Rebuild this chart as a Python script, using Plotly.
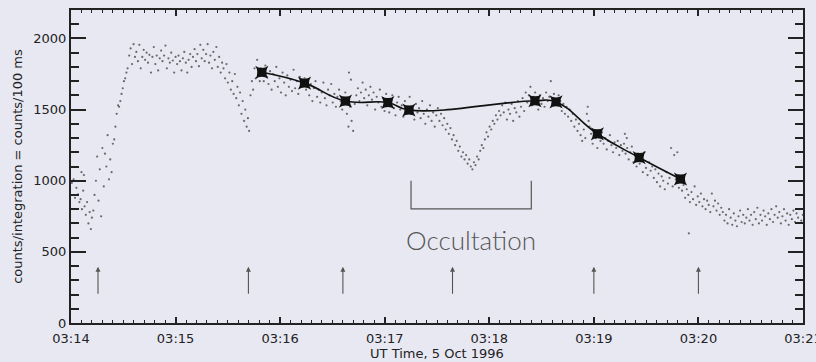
import pandas as pd
import plotly.graph_objects as go

# ---------------- data (seconds after 03:14:00 UT, counts/100 ms) ----------------
seg_start = [(0.5, 985), (1.5, 1010), (2.3, 880), (3.1, 950), (4.0, 905), (4.8, 850), (5.5, 870),
             (6.0, 1060), (6.3, 800), (7.0, 930), (7.4, 1040), (7.8, 820), (8.5, 760), (9.2, 850),
             (10.0, 700), (10.7, 780), (11.4, 660), (12.0, 740)]
seg_rise = [(12.8, 790), (13.5, 900), (14.3, 1000), (15.0, 1170), (15.8, 860), (16.5, 1080), (17.3, 750),
            (18.0, 1230), (18.8, 960), (19.5, 1190), (20.3, 1100), (21.0, 1320), (21.8, 1010), (22.5, 1150),
            (23.3, 1060), (24.0, 1260), (24.8, 1290), (25.5, 1380), (26.2, 1470), (27.0, 1530), (27.6, 1520),
            (28.3, 1560), (29.0, 1610), (29.7, 1650), (30.4, 1700), (31.1, 1720), (31.8, 1760)]
seg_plateau = [(32.5, 1790), (33.4, 1880), (34.2, 1930), (35.0, 1820), (35.9, 1960), (36.7, 1870), (37.5, 1905),
               (38.4, 1840), (39.2, 1955), (40.0, 1790), (40.9, 1870), (41.7, 1920), (42.5, 1850), (43.4, 1900),
               (44.2, 1830), (45.0, 1885), (45.9, 1760), (46.7, 1870), (47.5, 1940), (48.4, 1820), (49.2, 1880),
               (50.0, 1775), (50.9, 1860), (51.7, 1915), (52.5, 1840), (53.4, 1880), (54.2, 1950), (55.0, 1790),
               (55.9, 1860), (56.7, 1830), (57.5, 1900), (58.4, 1845), (59.2, 1760), (60.0, 1870), (60.9, 1820),
               (61.7, 1880), (62.5, 1840), (63.4, 1775), (64.2, 1860), (65.0, 1905), (65.9, 1830), (66.7, 1760),
               (67.5, 1850), (68.4, 1890), (69.2, 1800), (70.0, 1870), (70.9, 1925), (71.7, 1840), (72.5, 1890),
               (73.4, 1805), (74.2, 1955), (75.0, 1860), (75.9, 1920), (76.7, 1840), (77.5, 1890), (78.4, 1960),
               (79.2, 1830), (80.0, 1880), (80.9, 1790), (81.7, 1905), (82.5, 1850), (83.4, 1940), (84.2, 1800),
               (85.0, 1870), (85.9, 1760), (86.7, 1830), (87.5, 1790), (88.4, 1720), (89.2, 1820), (90.0, 1690),
               (90.9, 1760), (91.7, 1640)]
seg_drop = [(92.5, 1700), (93.3, 1610), (94.0, 1750), (94.8, 1580), (95.5, 1660), (96.3, 1530), (97.0, 1620),
            (97.8, 1470), (98.5, 1560), (99.3, 1420), (100.0, 1500), (100.8, 1380), (101.5, 1440), (102.2, 1350),
            (103.0, 1600), (103.8, 1700), (104.5, 1640), (105.3, 1790), (106.0, 1720), (106.8, 1850),
            (107.5, 1760), (108.3, 1700), (109.0, 1790), (109.8, 1740)]
seg_fall1 = [(110.6, 1700), (111.5, 1810), (112.4, 1730), (113.3, 1680), (114.2, 1770), (115.1, 1640),
             (116.0, 1750), (116.9, 1700), (117.8, 1800), (118.7, 1660), (119.6, 1720), (120.5, 1620),
             (121.4, 1760), (122.3, 1690), (123.2, 1600), (124.1, 1740), (125.0, 1660), (125.9, 1710),
             (126.8, 1630), (127.7, 1780), (128.6, 1650), (129.5, 1700), (130.4, 1610), (131.3, 1730),
             (132.2, 1670), (133.1, 1690), (134.0, 1720), (134.9, 1640), (135.8, 1700), (136.7, 1600),
             (137.6, 1680), (138.5, 1560), (139.4, 1650), (140.3, 1700), (141.2, 1590), (142.1, 1640),
             (143.0, 1550), (143.9, 1620), (144.8, 1690), (145.7, 1580), (146.6, 1530), (147.5, 1640),
             (148.4, 1600), (149.3, 1680), (150.2, 1550), (151.1, 1610), (152.0, 1520), (152.9, 1590),
             (153.8, 1640), (154.7, 1560), (155.6, 1500), (156.5, 1580), (157.4, 1620), (158.3, 1470),
             (159.2, 1380), (159.5, 1760), (160.1, 1520), (160.6, 1710), (161.0, 1420), (161.9, 1350),
             (162.8, 1540)]
seg_flat = [(163.7, 1600), (164.6, 1650), (165.5, 1560), (166.4, 1620), (167.3, 1690), (168.2, 1580),
            (169.1, 1640), (170.0, 1530), (170.9, 1600), (171.8, 1660), (172.7, 1570), (173.6, 1620),
            (174.5, 1500), (175.4, 1590), (176.3, 1550), (177.2, 1640), (178.1, 1520), (179.0, 1580),
            (179.9, 1490), (180.8, 1610), (181.7, 1540), (182.6, 1480), (183.5, 1570), (184.4, 1600),
            (185.3, 1510), (186.2, 1460), (187.1, 1550), (188.0, 1590), (188.9, 1500), (189.8, 1530),
            (190.7, 1450), (191.6, 1560), (192.5, 1480), (193.4, 1520), (194.3, 1590), (195.2, 1470),
            (196.1, 1500), (197.0, 1430), (197.9, 1540), (198.8, 1480), (199.7, 1510), (200.6, 1440),
            (201.5, 1560), (202.4, 1470), (203.3, 1400), (204.2, 1500), (205.1, 1450), (206.0, 1530),
            (206.9, 1420), (207.8, 1480), (208.7, 1380), (209.6, 1460), (210.5, 1510), (211.4, 1420),
            (212.3, 1470), (213.2, 1390), (214.1, 1440), (215.0, 1360)]
seg_dip = [(215.9, 1400), (216.8, 1330), (217.7, 1370), (218.6, 1290), (219.5, 1320), (220.4, 1250),
           (221.3, 1280), (222.2, 1210), (223.1, 1240), (224.0, 1170), (224.9, 1200), (225.8, 1150),
           (226.7, 1180), (227.6, 1120), (228.5, 1150), (229.4, 1100), (230.3, 1080), (231.2, 1130),
           (232.1, 1110), (233.0, 1170), (233.9, 1150), (234.8, 1210), (235.7, 1250), (236.6, 1230),
           (237.5, 1290), (238.4, 1340), (239.3, 1310), (240.2, 1380), (241.1, 1360), (242.0, 1420),
           (242.9, 1400), (243.8, 1460), (244.7, 1430), (245.6, 1490)]
seg_peak = [(246.5, 1460), (247.4, 1530), (248.3, 1480), (249.2, 1550), (250.1, 1430), (251.0, 1500),
            (251.9, 1470), (252.8, 1540), (253.7, 1420), (254.6, 1510), (255.5, 1480), (256.4, 1560),
            (257.3, 1450), (258.2, 1520), (259.1, 1580), (260.0, 1490), (260.9, 1620), (261.8, 1550),
            (262.7, 1600), (263.6, 1660), (264.5, 1530), (265.4, 1590), (266.3, 1620), (267.2, 1560),
            (268.1, 1500), (269.0, 1600), (269.9, 1540), (270.8, 1580), (271.7, 1520), (272.6, 1620),
            (273.5, 1560), (274.4, 1590), (275.3, 1700), (276.2, 1540), (277.1, 1610), (278.0, 1570),
            (278.9, 1530), (279.8, 1600), (280.7, 1560), (281.6, 1490), (282.5, 1540), (283.4, 1470),
            (284.3, 1520)]
seg_fall2 = [(285.2, 1450), (286.1, 1500), (287.0, 1420), (287.9, 1470), (288.8, 1380), (289.7, 1430),
             (290.6, 1350), (291.5, 1400), (292.4, 1320), (293.3, 1280), (294.2, 1360), (295.1, 1300),
             (296.0, 1470), (296.5, 1520), (297.0, 1420), (297.5, 1380), (298.4, 1330), (299.3, 1260),
             (300.2, 1350), (301.1, 1300), (302.0, 1230), (302.9, 1320), (303.8, 1280), (304.7, 1340),
             (305.6, 1260), (306.5, 1300), (307.4, 1220), (308.3, 1280), (309.2, 1320), (310.1, 1250),
             (311.0, 1200), (311.9, 1270), (312.8, 1230), (313.7, 1280), (314.6, 1180), (315.5, 1250),
             (316.4, 1210), (317.3, 1260), (317.8, 1330), (318.2, 1190), (318.9, 1300), (319.1, 1230),
             (320.0, 1150), (320.9, 1200), (321.8, 1240), (322.7, 1130), (323.6, 1180), (324.5, 1100),
             (325.4, 1190), (326.3, 1120), (327.2, 1150), (328.1, 1060), (329.0, 1200), (329.9, 1090),
             (330.8, 1040), (331.7, 1130), (332.6, 1070)]
seg_fall3 = [(333.5, 1100), (334.4, 1020), (335.3, 1080), (336.2, 990), (337.1, 1050), (338.0, 960),
             (338.9, 1030), (339.8, 1000), (340.7, 940), (341.6, 1060), (342.5, 980), (343.4, 1020),
             (344.3, 1230), (345.2, 960), (346.1, 1180), (347.0, 1010), (347.9, 1200), (348.8, 950),
             (349.7, 990), (350.6, 930), (351.5, 970), (352.4, 880), (353.3, 940), (354.2, 900),
             (354.5, 630), (355.1, 850), (356.0, 920), (356.9, 870), (357.8, 960), (358.7, 830),
             (359.6, 890), (360.5, 850), (361.4, 910), (362.3, 820), (363.2, 870), (364.1, 800),
             (365.0, 860), (365.9, 830), (366.8, 780), (367.7, 910), (368.6, 820), (369.5, 860),
             (370.4, 790), (371.3, 840), (372.2, 760), (373.1, 810)]
seg_tail = [(374.0, 780), (374.9, 720), (375.8, 760), (376.7, 700), (377.6, 800), (378.5, 740), (379.4, 690),
            (380.3, 770), (381.2, 720), (382.1, 680), (383.0, 750), (383.9, 790), (384.8, 710), (385.7, 760),
            (386.6, 700), (387.5, 740), (388.4, 800), (389.3, 720), (390.2, 760), (391.1, 690), (392.0, 780),
            (392.9, 730), (393.8, 810), (394.7, 700), (395.6, 760), (396.5, 720), (397.4, 790), (398.3, 750),
            (399.2, 690), (400.1, 770), (401.0, 730), (401.9, 800), (402.8, 710), (403.7, 760), (404.6, 820),
            (405.5, 740), (406.4, 780), (407.3, 700), (408.2, 750), (409.1, 800), (410.0, 720), (410.9, 770),
            (411.8, 690), (412.7, 760), (413.6, 730), (414.5, 790), (415.4, 710), (416.3, 770), (417.2, 740),
            (418.1, 800), (419.0, 720), (419.9, 760)]

# fitted points (asterisks) joined by a smooth curve
fit_s = [109.5, 134.0, 157.5, 181.8, 193.9, 266.2, 278.3, 302.0, 326.0, 349.7]
fit_v = [1762, 1686, 1560, 1550, 1497, 1562, 1554, 1330, 1163, 1012]

# arrows (seconds after 03:14), tail/tip in counts
arrow_s = [15.5, 101.8, 156.0, 218.9, 300.0, 360.0]
arrow_tail, arrow_tip = 195, 395

# occultation bracket
occ_start_s, occ_end_s = 195.1, 264.1
occ_top, occ_bottom = 1000, 802
occ_label = "Occultation"
occ_label_v = 583

# axis
x_start, x_end = "1996-10-05 03:14:00", "1996-10-05 03:21:00"
y_range = [0, 2200]
x_title = "UT Time, 5 Oct 1996"
y_title = "counts/integration = counts/100 ms"

# ---------------- build ----------------
base = pd.Timestamp(x_start)


def to_time(seconds):
    return [base + pd.Timedelta(seconds=float(s)) for s in seconds]


segments = [seg_start, seg_rise, seg_plateau, seg_drop, seg_fall1, seg_flat, seg_dip,
            seg_peak, seg_fall2, seg_fall3, seg_tail]
pts = [p for seg in segments for p in seg]
sc_s = [p[0] for p in pts]
sc_v = [p[1] for p in pts]

BG = "#e8e8f2"
INK = "#222222"

fig = go.Figure()
fig.add_trace(go.Scatter(
    x=to_time(sc_s), y=sc_v, mode="markers",
    marker=dict(size=2.2, color="rgba(20,20,20,0.6)", line=dict(width=0)),
    hoverinfo="skip", showlegend=False))

fig.add_trace(go.Scatter(
    x=to_time(fit_s), y=fit_v, mode="lines+markers",
    line=dict(color="#111111", width=1.6, shape="spline", smoothing=1.3),
    marker=dict(symbol="star-square", size=12, color="#111111"),
    showlegend=False))

fig.add_trace(go.Scatter(
    x=to_time([occ_start_s, occ_start_s, occ_end_s, occ_end_s]),
    y=[occ_top, occ_bottom, occ_bottom, occ_top], mode="lines",
    line=dict(color="#555555", width=1.2), showlegend=False, hoverinfo="skip"))

for t in to_time(arrow_s):
    fig.add_annotation(x=t, y=arrow_tip, ax=t, ay=arrow_tail, axref="x", ayref="y",
                       xref="x", yref="y", text="", showarrow=True,
                       arrowhead=2, arrowsize=0.9, arrowwidth=1.1, arrowcolor="#555555")

fig.add_annotation(x=to_time([(occ_start_s + occ_end_s) / 2])[0], y=occ_label_v,
                   xref="x", yref="y", text=occ_label, showarrow=False,
                   font=dict(family="Lato", size=26, color="#555555", weight=300))

fig.update_layout(
    width=816, height=362,
    margin=dict(l=71, r=13, t=10, b=39),
    paper_bgcolor=BG, plot_bgcolor=BG,
    font=dict(family="DejaVu Sans", size=13, color=INK),
)
fig.update_xaxes(
    type="date", range=[x_start, x_end], automargin=False,
    tick0=x_start, dtick=60000, tickformat="%H:%M",
    ticks="inside", ticklen=6, tickwidth=1.5, tickcolor=INK,
    minor=dict(dtick=6000, ticks="inside", ticklen=3, tickwidth=1.2, tickcolor=INK),
    showline=True, linewidth=2, linecolor=INK, mirror="ticks",
    showgrid=False, zeroline=False, ticklabelstandoff=2, ticklabeloverflow="allow",
    tickfont=dict(size=13, color=INK),
    title=dict(text=x_title, font=dict(size=13, color=INK), standoff=1),
)
fig.update_yaxes(
    range=y_range, tick0=0, dtick=500, automargin=False,
    ticks="inside", ticklen=15, tickwidth=2, tickcolor=INK,
    minor=dict(dtick=100, ticks="inside", ticklen=8, tickwidth=1.5, tickcolor=INK),
    showline=True, linewidth=2, linecolor=INK, mirror="ticks",
    showgrid=False, zeroline=False,
    tickfont=dict(size=13, color=INK),
    title=dict(text=y_title, font=dict(size=13, color=INK), standoff=8),
)

fig.write_html(
    "out.html",
    config={"displayModeBar": False},
    post_script="document.body.style.margin='0';document.body.style.background='%s';" % BG,
)
